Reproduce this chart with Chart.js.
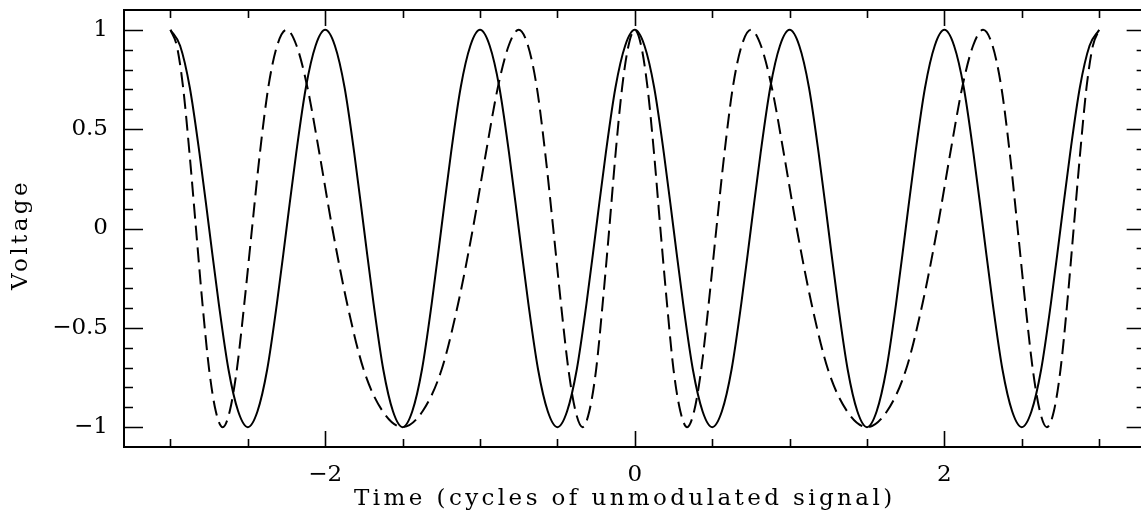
<!DOCTYPE html>
<html>
<head>
<meta charset="utf-8">
<title>Voltage vs time</title>
<script src="https://cdn.jsdelivr.net/npm/chart.js@4"></script>
<style>
    html, body { margin: 0; padding: 0; background: #fff; overflow: hidden; }
    #signal-chart { display: block; }
</style>
</head>
<body>
<canvas id="signal-chart" width="1141" height="522"></canvas>
<script>
// unmodulated carrier, sampled every 1/16 cycle
const carrierTime = [
    -3, -2.9375, -2.875, -2.8125, -2.75, -2.6875, -2.625, -2.5625,
    -2.5, -2.4375, -2.375, -2.3125, -2.25, -2.1875, -2.125, -2.0625,
    -2, -1.9375, -1.875, -1.8125, -1.75, -1.6875, -1.625, -1.5625,
    -1.5, -1.4375, -1.375, -1.3125, -1.25, -1.1875, -1.125, -1.0625,
    -1, -0.9375, -0.875, -0.8125, -0.75, -0.6875, -0.625, -0.5625,
    -0.5, -0.4375, -0.375, -0.3125, -0.25, -0.1875, -0.125, -0.0625,
    0, 0.0625, 0.125, 0.1875, 0.25, 0.3125, 0.375, 0.4375,
    0.5, 0.5625, 0.625, 0.6875, 0.75, 0.8125, 0.875, 0.9375,
    1, 1.0625, 1.125, 1.1875, 1.25, 1.3125, 1.375, 1.4375,
    1.5, 1.5625, 1.625, 1.6875, 1.75, 1.8125, 1.875, 1.9375,
    2, 2.0625, 2.125, 2.1875, 2.25, 2.3125, 2.375, 2.4375,
    2.5, 2.5625, 2.625, 2.6875, 2.75, 2.8125, 2.875, 2.9375,
    3
];
const carrierVolts = [
    1, 0.92, 0.71, 0.38, 0, -0.38, -0.71, -0.92, -1, -0.92, -0.71, -0.38, 0, 0.38, 0.71, 0.92,
    1, 0.92, 0.71, 0.38, 0, -0.38, -0.71, -0.92, -1, -0.92, -0.71, -0.38, 0, 0.38, 0.71, 0.92,
    1, 0.92, 0.71, 0.38, 0, -0.38, -0.71, -0.92, -1, -0.92, -0.71, -0.38, 0, 0.38, 0.71, 0.92,
    1, 0.92, 0.71, 0.38, 0, -0.38, -0.71, -0.92, -1, -0.92, -0.71, -0.38, 0, 0.38, 0.71, 0.92,
    1, 0.92, 0.71, 0.38, 0, -0.38, -0.71, -0.92, -1, -0.92, -0.71, -0.38, 0, 0.38, 0.71, 0.92,
    1, 0.92, 0.71, 0.38, 0, -0.38, -0.71, -0.92, -1, -0.92, -0.71, -0.38, 0, 0.38, 0.71, 0.92,
    1
];

// modulated signal: peaks, crossings and the points between them
const modTime = [
    -3, -2.959, -2.918, -2.877, -2.835, -2.793, -2.75, -2.707,
    -2.662, -2.617, -2.571, -2.523, -2.473, -2.422, -2.368, -2.311,
    -2.25, -2.185, -2.115, -2.038, -1.954, -1.858, -1.752, -1.629,
    -1.5, -1.371, -1.248, -1.142, -1.046, -0.962, -0.885, -0.815,
    -0.75, -0.69, -0.633, -0.579, -0.527, -0.477, -0.429, -0.383,
    -0.338, -0.294, -0.25, -0.208, -0.165, -0.124, -0.082, -0.041,
    0, 0.041, 0.082, 0.124, 0.165, 0.208, 0.25, 0.294,
    0.338, 0.383, 0.429, 0.477, 0.527, 0.579, 0.633, 0.69,
    0.75, 0.815, 0.885, 0.962, 1.046, 1.142, 1.248, 1.371,
    1.5, 1.629, 1.752, 1.858, 1.954, 2.038, 2.115, 2.185,
    2.25, 2.311, 2.368, 2.422, 2.473, 2.523, 2.571, 2.617,
    2.662, 2.707, 2.75, 2.793, 2.835, 2.877, 2.918, 2.959,
    3
];
const modVolts = [
    1, 0.92, 0.71, 0.38, 0, -0.38, -0.71, -0.92, -1, -0.92, -0.71, -0.38, 0, 0.38, 0.71, 0.92,
    1, 0.92, 0.71, 0.38, 0, -0.38, -0.71, -0.92, -1, -0.92, -0.71, -0.38, 0, 0.38, 0.71, 0.92,
    1, 0.92, 0.71, 0.38, 0, -0.38, -0.71, -0.92, -1, -0.92, -0.71, -0.38, 0, 0.38, 0.71, 0.92,
    1, 0.92, 0.71, 0.38, 0, -0.38, -0.71, -0.92, -1, -0.92, -0.71, -0.38, 0, 0.38, 0.71, 0.92,
    1, 0.92, 0.71, 0.38, 0, -0.38, -0.71, -0.92, -1, -0.92, -0.71, -0.38, 0, 0.38, 0.71, 0.92,
    1, 0.92, 0.71, 0.38, 0, -0.38, -0.71, -0.92, -1, -0.92, -0.71, -0.38, 0, 0.38, 0.71, 0.92,
    1
];

const xLabelTicks = [-2, 0, 2];
const yLabelTicks = [-1, -0.5, 0, 0.5, 1];
const xTitle = 'Time (cycles of unmodulated signal)';
const yTitle = 'Voltage';

// frame runs from -3.3 to 3.3; the canvas stops a little short at the right
const X_MIN = -3.3;
const X_FRAME_MAX = 3.3;
const X_VIEW_MAX = 3.27;

const FONT = '"DejaVu Serif", "Liberation Serif", serif';

function fmt(v) {
    return String(v).replace('-', '\u2212');
}

function toPoints(xs, ys) {
    return xs.map((x, i) => ({ x: x, y: ys[i] }));
}

// box frame, inward ticks on all four sides, axis titles
const framePlugin = {
    id: 'frame',
    afterDraw(chart) {
        const ctx = chart.ctx;
        const a = chart.chartArea;
        const xs = chart.scales.x;
        const ys = chart.scales.y;
        const right = xs.getPixelForValue(X_FRAME_MAX);
        ctx.save();
        ctx.strokeStyle = '#000';
        ctx.lineWidth = 2;
        ctx.strokeRect(a.left, a.top, right - a.left, a.bottom - a.top);

        ctx.lineWidth = 1.6;
        ctx.beginPath();
        for (let i = -6; i <= 6; i++) {
            const px = Math.round(xs.getPixelForValue(i / 2)) + 0.5;
            const len = (i % 4 === 0) ? 16 : 8;
            ctx.moveTo(px, a.bottom);
            ctx.lineTo(px, a.bottom - len);
            ctx.moveTo(px, a.top);
            ctx.lineTo(px, a.top + len);
        }
        for (let i = -10; i <= 10; i++) {
            const py = Math.round(ys.getPixelForValue(i / 10)) + 0.5;
            const len = (i % 5 === 0) ? 19 : 9;
            ctx.moveTo(a.left, py);
            ctx.lineTo(a.left + len, py);
            ctx.moveTo(right, py);
            ctx.lineTo(right - len, py);
        }
        ctx.stroke();

        // titles use the wide letter spacing of the plotting package
        ctx.fillStyle = '#000';
        ctx.font = '23px ' + FONT;
        ctx.letterSpacing = '3.4px';
        ctx.textAlign = 'center';
        ctx.textBaseline = 'alphabetic';
        ctx.fillText(xTitle, (a.left + right) / 2 - 10, 505);

        ctx.translate(27, (a.top + a.bottom) / 2 + 6);
        ctx.rotate(-Math.PI / 2);
        ctx.fillText(yTitle, 0, 0);
        ctx.restore();
    }
};

const chart = new Chart(document.getElementById('signal-chart'), {
    type: 'line',
    data: {
        datasets: [
            {
                label: 'unmodulated',
                data: toPoints(carrierTime, carrierVolts),
                borderColor: '#000',
                borderWidth: 2,
                pointRadius: 0,
                fill: false,
                cubicInterpolationMode: 'monotone'
            },
            {
                label: 'modulated',
                data: toPoints(modTime, modVolts),
                borderColor: '#000',
                borderWidth: 2,
                borderDash: [15, 7],
                pointRadius: 0,
                fill: false,
                cubicInterpolationMode: 'monotone'
            }
        ]
    },
    options: {
        responsive: false,
        animation: false,
        devicePixelRatio: 1,
        layout: { padding: { top: 10, right: 0, left: 0, bottom: 0 } },
        plugins: {
            legend: { display: false },
            tooltip: { enabled: false }
        },
        scales: {
            x: {
                type: 'linear',
                min: X_MIN,
                max: X_VIEW_MAX,
                grid: { display: false, drawTicks: false },
                border: { display: false },
                afterBuildTicks: (scale) => { scale.ticks = xLabelTicks.map(v => ({ value: v })); },
                afterFit: (scale) => {
                    scale.height = 75;
                    scale.paddingLeft = 0;
                    scale.paddingRight = 0;
                },
                ticks: {
                    color: '#000',
                    padding: 14,
                    maxRotation: 0,
                    font: { family: FONT, size: 23 },
                    callback: (v) => fmt(v)
                }
            },
            y: {
                min: -1.1,
                max: 1.1,
                grid: { display: false, drawTicks: false },
                border: { display: false },
                afterBuildTicks: (scale) => { scale.ticks = yLabelTicks.map(v => ({ value: v })); },
                afterFit: (scale) => {
                    scale.width = 124;
                    scale.paddingTop = 0;
                    scale.paddingBottom = 0;
                },
                ticks: {
                    color: '#000',
                    padding: 16,
                    font: { family: FONT, size: 23 },
                    callback: (v) => fmt(v)
                }
            }
        }
    },
    plugins: [framePlugin]
});
</script>
</body>
</html>
